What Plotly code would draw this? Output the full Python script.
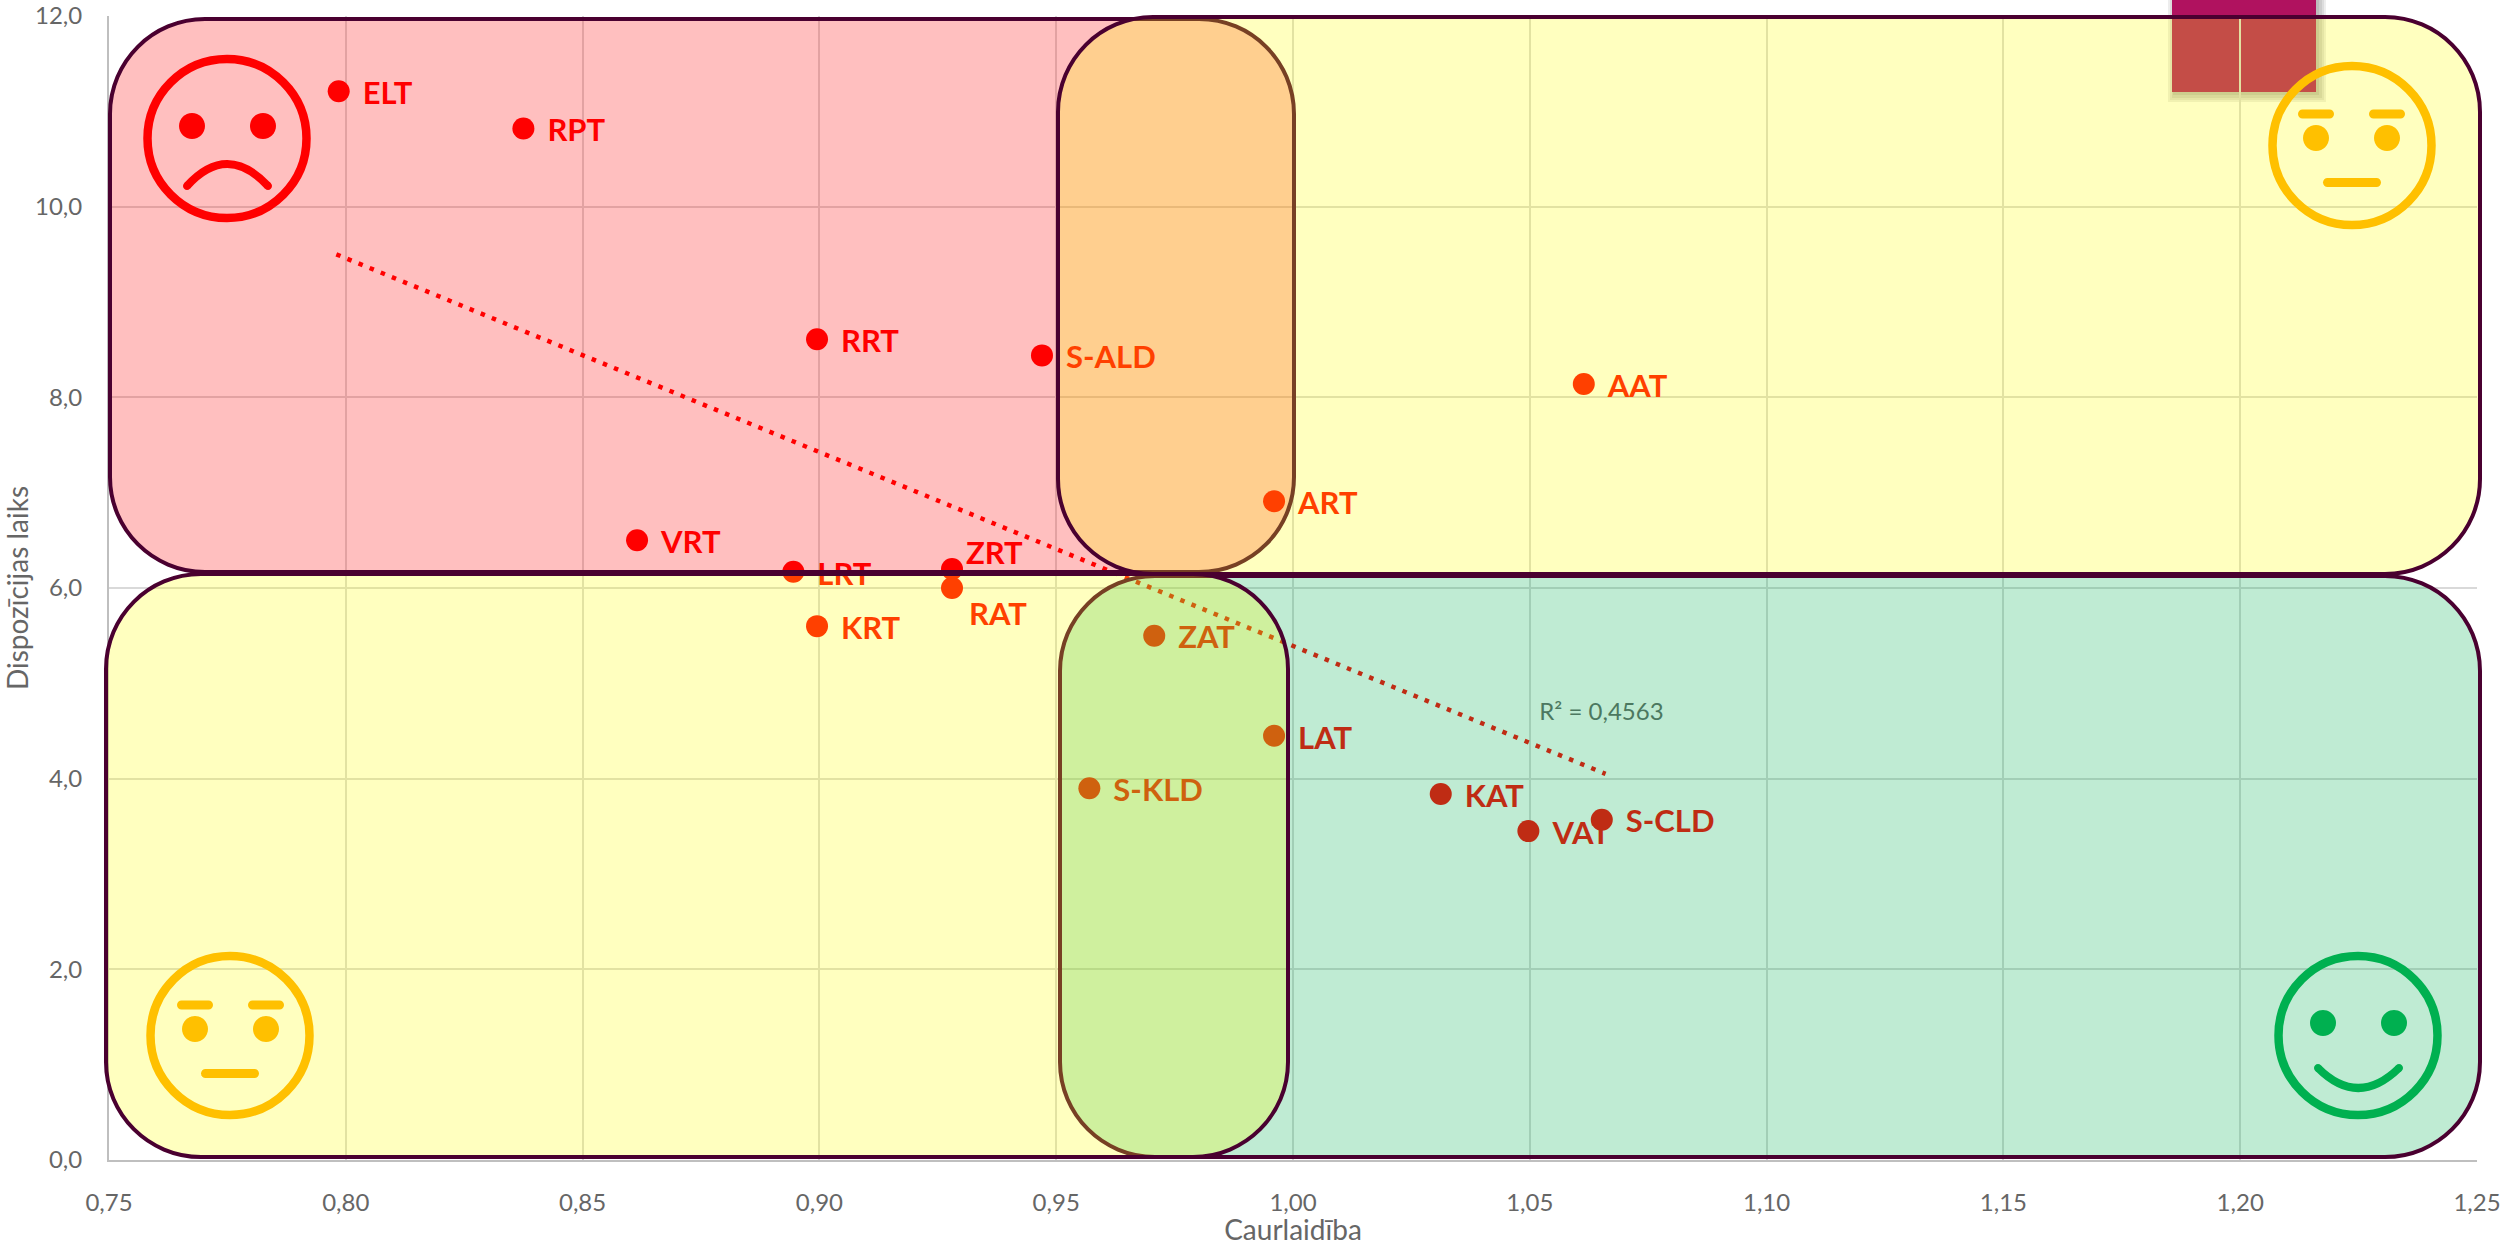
import plotly.graph_objects as go

# ---- data ----
names = ["ELT", "RPT", "RRT", "S-ALD", "AAT", "ART", "VRT", "LRT", "ZRT", "RAT",
         "KRT", "ZAT", "LAT", "S-KLD", "KAT", "VAT", "S-CLD"]
throughput = [0.7985, 0.8375, 0.8995, 0.947, 1.0614, 0.996, 0.8615, 0.8945, 0.928, 0.928,
              0.8995, 0.9707, 0.996, 0.957, 1.0312, 1.0497, 1.0652]
dispatch_time = [11.21, 10.82, 8.61, 8.44, 8.14, 6.91, 6.50, 6.17, 6.20, 6.00,
                 5.60, 5.50, 4.45, 3.90, 3.84, 3.45, 3.57]
trend_x = [0.798, 1.066]
trend_y = [9.50, 4.05]
r2_text = "R² = 0,4563"
x_title = "Caurlaidība"
y_title = "Dispozīcijas laiks"

# ---- layout constants ----
W, H = 2519, 1246
L, R, T, B = 109, 2477, 16, 1160
XMIN, XMAX, YMIN, YMAX = 0.75, 1.25, 0.0, 12.0
FONT = "Lato"
TICK_COL = "#666666"
BORDER = "#4A0030"
K = 0.5523


def X(p):
    return (p - L) / (R - L)


def Y(p):
    return (B - p) / (B - T)


def pt(x, y):
    return f"{X(x):.6f},{Y(y):.6f}"


def round_rect(x0, y0, x1, y1, r):
    c = r * (1 - K)
    return (f"M{pt(x0 + r, y0)} L{pt(x1 - r, y0)} "
            f"C{pt(x1 - c, y0)} {pt(x1, y0 + c)} {pt(x1, y0 + r)} "
            f"L{pt(x1, y1 - r)} "
            f"C{pt(x1, y1 - c)} {pt(x1 - c, y1)} {pt(x1 - r, y1)} "
            f"L{pt(x0 + r, y1)} "
            f"C{pt(x0 + c, y1)} {pt(x0, y1 - c)} {pt(x0, y1 - r)} "
            f"L{pt(x0, y0 + r)} "
            f"C{pt(x0, y0 + c)} {pt(x0 + c, y0)} {pt(x0 + r, y0)} Z")


def ellipse(cx, cy, rx, ry):
    ax, ay = rx * K, ry * K
    return (f"M{pt(cx - rx, cy)} "
            f"C{pt(cx - rx, cy - ay)} {pt(cx - ax, cy - ry)} {pt(cx, cy - ry)} "
            f"C{pt(cx + ax, cy - ry)} {pt(cx + rx, cy - ay)} {pt(cx + rx, cy)} "
            f"C{pt(cx + rx, cy + ay)} {pt(cx + ax, cy + ry)} {pt(cx, cy + ry)} "
            f"C{pt(cx - ax, cy + ry)} {pt(cx - rx, cy + ay)} {pt(cx - rx, cy)} Z")


shapes = []


def add(path, fill=None, line=None, width=0, layer="above"):
    shapes.append(dict(type="path", xref="paper", yref="paper", path=path, layer=layer,
                       fillcolor=fill or "rgba(0,0,0,0)",
                       line=dict(color=line or "rgba(0,0,0,0)", width=width)))


# magenta box with soft shadow, below the gridlines
for grow, off in ((7, 3), (5, 3), (3, 3), (1, 2)):
    add(f"M{pt(2172 - grow + off, 0)} L{pt(2316 + grow + off, 0)} "
        f"L{pt(2316 + grow + off, 92 + grow + off)} L{pt(2172 - grow + off, 92 + grow + off)} Z",
        fill="rgba(0,0,0,0.07)", layer="below")
add(f"M{pt(2172, 0)} L{pt(2316, 0)} L{pt(2316, 92)} L{pt(2172, 92)} Z", fill="#B0125F", layer="below")

# quadrant panels: translucent, over the marks
RADIUS = 95
add(round_rect(110, 19, 1294, 572, RADIUS), "rgba(255,0,0,0.25)", BORDER, 4)
add(round_rect(1058, 17, 2480, 574, RADIUS), "rgba(255,255,0,0.25)", BORDER, 4)
add(round_rect(1060, 576, 2480, 1157, RADIUS), "rgba(0,176,80,0.25)", BORDER, 4)
add(round_rect(106, 574, 1288, 1157, RADIUS), "rgba(255,255,0,0.25)", BORDER, 4)


def face_outline(cx, cy, col):
    add(ellipse(cx, cy, 79.5, 79.5), None, col, 8.5)


def eye(cx, cy, col):
    add(ellipse(cx, cy, 13, 13), col, None, 0)


def dash(x0, x1, y0, y1, col):
    add(round_rect(x0, y0, x1, y1, (y1 - y0) / 2), col, None, 0)


def mouth(x0, y0, xc, yc, x1, y1, col):
    add(f"M{pt(x0, y0)} Q{pt(xc, yc)} {pt(x1, y1)}", None, col, 8)
    add(ellipse(x0, y0, 4, 4), col, None, 0)
    add(ellipse(x1, y1, 4, 4), col, None, 0)


# sad
RED = "#FF0000"
face_outline(227, 138.5, RED)
eye(192, 126, RED)
eye(263, 126, RED)
mouth(187, 186, 227, 142, 268, 186, RED)


def neutral(cx, cy, ex0, ex1, ey):
    col = "#FFC000"
    face_outline(cx, cy, col)
    eye(ex0, ey, col)
    eye(ex1, ey, col)
    dash(ex0 - 18, ex0 + 18, ey - 28.5, ey - 19.5, col)
    dash(ex1 - 18, ex1 + 18, ey - 28.5, ey - 19.5, col)
    dash(cx - 29, cx + 29, ey + 40, ey + 49, col)


neutral(2352, 145.5, 2316, 2387, 138)
neutral(230, 1035.5, 195, 266, 1029)

# happy
GREEN = "#00B050"
face_outline(2358, 1035.5, GREEN)
eye(2323, 1023, GREEN)
eye(2394, 1023, GREEN)
mouth(2318, 1068, 2358, 1108, 2399, 1068, GREEN)

# ---- label placement (pixel offsets from each point) ----
PX_X = (R - L) / (XMAX - XMIN)
PX_Y = (B - T) / (YMAX - YMIN)
offset_default = (24, 5)
offset_special = {"ZRT": (14, -13), "RAT": (17, 29)}
offsets = [offset_special.get(n, offset_default) for n in names]
label_x = [x + o[0] / PX_X for x, o in zip(throughput, offsets)]
label_y = [y - o[1] / PX_Y for y, o in zip(dispatch_time, offsets)]

fig = go.Figure()
fig.add_trace(go.Scatter(x=trend_x, y=trend_y, mode="lines",
                         line=dict(color=RED, width=4.5, dash="4.5px,7.5px"), hoverinfo="skip"))
fig.add_trace(go.Scatter(x=throughput, y=dispatch_time, mode="markers",
                         marker=dict(color=RED, size=22, line=dict(width=0))))
fig.add_trace(go.Scatter(x=label_x, y=label_y, mode="text", text=names, textposition="middle right",
                         textfont=dict(family=FONT, size=31, color=RED, weight="bold"), hoverinfo="skip"))
fig.add_trace(go.Scatter(x=[1.052], y=[4.68], mode="text", text=[r2_text], textposition="middle right",
                         textfont=dict(family=FONT, size=24, color=TICK_COL), hoverinfo="skip"))

axis_common = dict(showgrid=True, gridcolor="#D9D9D9", gridwidth=2, zeroline=False,
                   showline=True, linecolor="#BFBFBF", linewidth=2, automargin=False,
                   ticks="outside", tickcolor="rgba(0,0,0,0)", ticklen=20,
                   tickfont=dict(family=FONT, size=24, color=TICK_COL))

fig.update_layout(
    width=W, height=H, showlegend=False,
    margin=dict(l=L, r=W - R, t=T, b=H - B, pad=0),
    paper_bgcolor="white", plot_bgcolor="white",
    separators=", ",
    shapes=shapes,
    xaxis=dict(range=[XMIN, XMAX], tickmode="linear", tick0=0.75, dtick=0.05, tickformat=".2f",
               title=dict(text=x_title, font=dict(family=FONT, size=28, color=TICK_COL)),
               **axis_common),
    yaxis=dict(range=[YMIN, YMAX], tickmode="linear", tick0=0, dtick=2, tickformat=".1f",
               title=dict(text=y_title, font=dict(family=FONT, size=28, color=TICK_COL)),
               **axis_common),
)

fig.write_html("out.html", config=dict(displayModeBar=False),
               post_script="document.body.style.margin='0';document.body.style.overflow='hidden';")
